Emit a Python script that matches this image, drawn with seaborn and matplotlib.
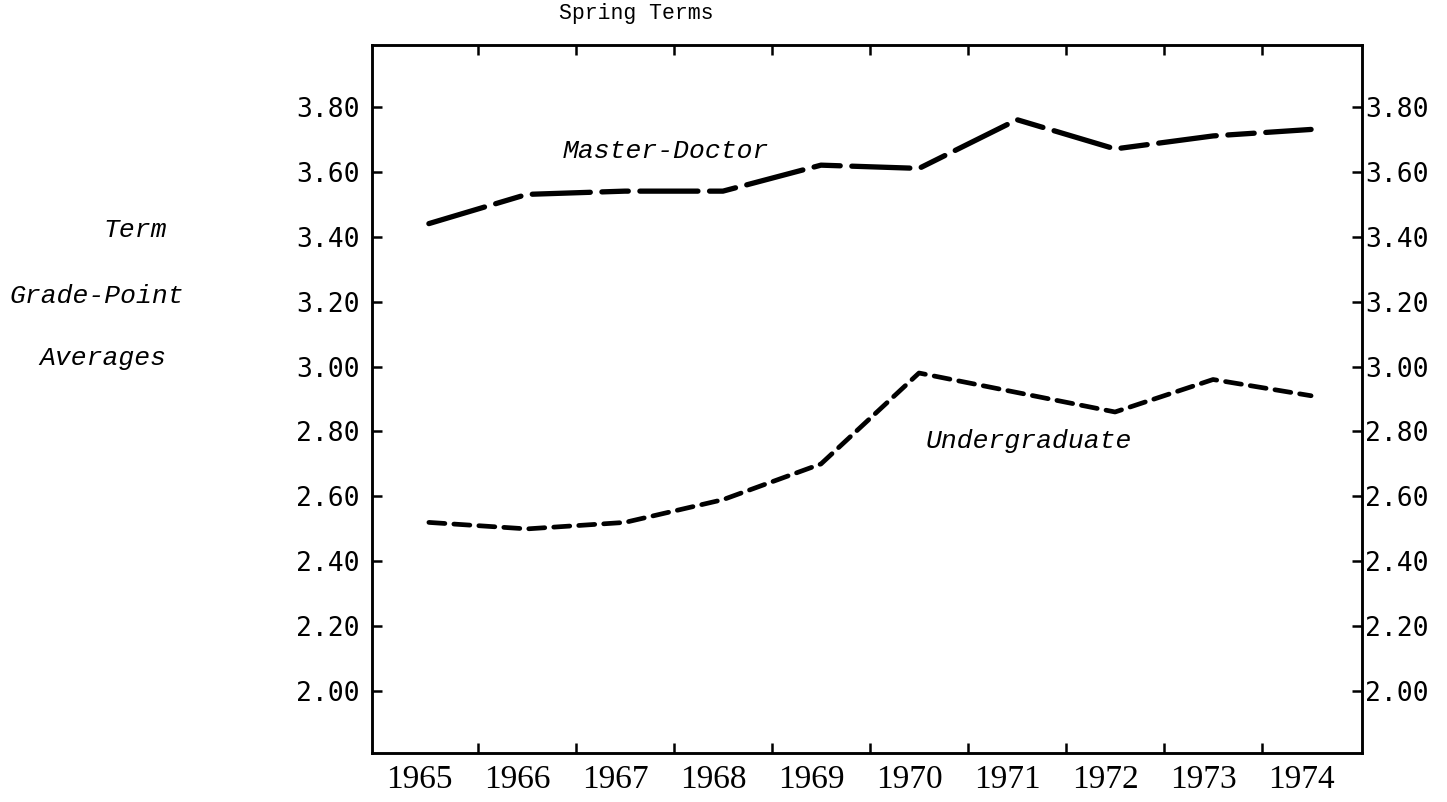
import numpy as np
import pandas as pd
import matplotlib
matplotlib.use("Agg")
import matplotlib.pyplot as plt
import seaborn as sns

years = [1965, 1966, 1967, 1968, 1969, 1970, 1971, 1972, 1973, 1974]
master_doctor = [3.44, 3.53, 3.54, 3.54, 3.62, 3.61, 3.76, 3.67, 3.71, 3.73]
undergraduate = [2.52, 2.50, 2.52, 2.59, 2.70, 2.98, 2.92, 2.86, 2.96, 2.91]
gpa_ticks = [2.00, 2.20, 2.40, 2.60, 2.80, 3.00, 3.20, 3.40, 3.60, 3.80]
side_label = ["Term", "Grade-Point", "Averages"]

sns.set_theme(style="white")
plt.rcParams.update({
    "figure.facecolor": "white",
    "axes.facecolor": "white",
    "axes.edgecolor": "black",
    "axes.linewidth": 1.8,
    "text.color": "black",
    "xtick.color": "black",
    "ytick.color": "black",
})

df = pd.DataFrame({"year": years * 2,
                   "gpa": master_doctor + undergraduate,
                   "group": ["Master-Doctor"] * len(years) + ["Undergraduate"] * len(years)})

fig = plt.figure(figsize=(14.47, 8.02), dpi=100)
ax = fig.add_axes([0.2571, 0.0611, 0.6842, 0.8828])

sns.lineplot(data=df[df.group == "Master-Doctor"], x="year", y="gpa", ax=ax,
             color="black", linewidth=3.8, legend=False)
sns.lineplot(data=df[df.group == "Undergraduate"], x="year", y="gpa", ax=ax,
             color="black", linewidth=3.4, legend=False)
ax.lines[0].set_dashes((11, 2.2, 5, 2.2))
ax.lines[1].set_dashes((3.4, 1.9))
for ln in ax.lines:
    ln.set_dash_capstyle("round")

ax.set_xlim(1964.42, 1974.52)
ax.set_ylim(1.81, 3.99)
ax.set_xlabel("")
ax.set_ylabel("")

# boundary ticks between years, year labels centred on the years
yr = np.array(years)
ax.set_xticks(yr[:-1] + 0.5)
ax.set_xticklabels([])
ax.set_xticks(yr - 0.1, minor=True)
ax.set_xticklabels([str(y) for y in years], minor=True,
                   fontfamily="Liberation Serif", fontsize=24)
ax.tick_params(axis="x", which="major", direction="in", length=7, width=1.8,
               top=True, bottom=True)
ax.tick_params(axis="x", which="minor", length=0, pad=8)

ax.set_yticks(gpa_ticks)
ax.set_yticklabels([f"{v:.2f}" for v in gpa_ticks],
                   fontfamily="DejaVu Sans Mono", fontsize=19)
ax.tick_params(axis="y", direction="in", length=7, width=1.8, pad=9)

ax2 = ax.twinx()
ax2.set_ylim(ax.get_ylim())
ax2.set_yticks(gpa_ticks)
ax2.set_yticklabels([f"{v:.2f}" for v in gpa_ticks],
                    fontfamily="DejaVu Sans Mono", fontsize=19)
ax2.tick_params(axis="y", direction="in", length=7, width=1.8, pad=2)
ax2.grid(False)

for a in (ax, ax2):
    for s in a.spines.values():
        s.set_visible(True)
        s.set_linewidth(1.8)
        s.set_color("black")

ax.text(1967.42, 3.665, "Master-Doctor", fontfamily="Liberation Mono",
        style="italic", fontsize=19, ha="center", va="center")
ax.text(1971.12, 2.77, "Undergraduate", fontfamily="Liberation Mono",
        style="italic", fontsize=19, ha="center", va="center")

fig.text(0.44, 1 - 14 / 802, "Spring Terms", fontfamily="Liberation Mono",
         fontsize=15.5, ha="center", va="center")
for txt, ypix, xpix in zip(side_label, [230, 296, 358], [135, 97, 103]):
    fig.text(xpix / 1447, 1 - ypix / 802, txt, fontfamily="Liberation Mono",
             style="italic", fontsize=19, ha="center", va="center")

fig.savefig("out.png", dpi=100)
